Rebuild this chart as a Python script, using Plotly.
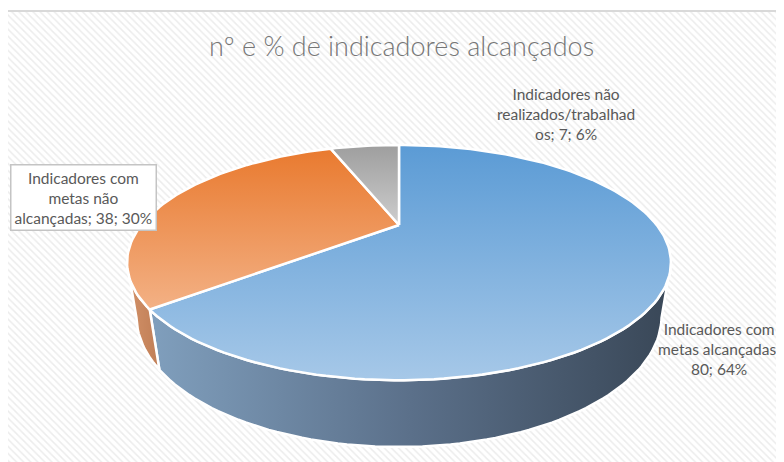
import math
import plotly.graph_objects as go

# ---------------- data ----------------
categories = [
    "Indicadores com metas alcançadas",
    "Indicadores com metas não alcançadas",
    "Indicadores não realizados/trabalhados",
]
values = [80, 38, 7]
label_lines = [
    ["Indicadores com", "metas alcançadas;"],
    ["Indicadores com", "metas não", "alcançadas;"],
    ["Indicadores não", "realizados/trabalhad", "os;"],
]
title_text = "nº e % de indicadores alcançados"

# ---------------- styles ----------------
top_scales = [
    [[0, "#5B9BD5"], [1, "#A6C8E8"]],
    [[0, "#E97A2F"], [1, "#F3B185"]],
    [[0, "#9E9E9E"], [1, "#CDCDCD"]],
]
wall_scales = [
    [[0, "#809FBD"], [0.5, "#5B708A"], [1, "#394757"]],
    [[0, "#D29168"], [1, "#C07E56"]],
    [[0, "#8A8A8A"], [1, "#6E6E6E"]],
]
text_color = "#595959"
FONT = "Lato"

# ---------------- 3D projection geometry ----------------
CX, CY = 399.0, 225.0      # projected centre of the pie (pixels)
S = 257.7                  # scale
D = 2.857                  # camera distance (perspective)
SA, CA = 0.41, 0.912       # sin / cos of the tilt
THICK = 0.224              # pie thickness


def proj(theta_deg, r, h):
    t = math.radians(theta_deg)
    u = r * math.sin(t)
    v = r * math.cos(t)
    depth = -h * SA + v * CA + D
    up = h * CA + v * SA
    return CX + S * D * u / depth, CY - S * D * up / depth


def arc(a0, a1, h, n=None):
    if n is None:
        n = max(4, int(abs(a1 - a0) / 1.5))
    pts = [proj(a0 + (a1 - a0) * i / n, 1.0, h) for i in range(n + 1)]
    return [p[0] for p in pts], [p[1] for p in pts]


total = sum(values)
bounds = [0.0]
for v in values:
    bounds.append(bounds[-1] + 360.0 * v / total)

fig = go.Figure()

# background: chart area with diagonal hatch
fig.add_trace(go.Scatter(
    x=[6, 800, 800, 6, 6], y=[11, 11, 480, 480, 11],
    mode="lines", fill="toself", line=dict(width=0),
    fillcolor="white",
    fillpattern=dict(shape="\\", fgcolor="#DADADA", bgcolor="white",
                     size=5, solidity=0.3),
    hoverinfo="skip", showlegend=False))

# visible outer walls
vis0 = math.degrees(math.acos(-CA / D))
vis1 = 360.0 - vis0
for i, v in enumerate(values):
    a0, a1 = max(bounds[i], vis0), min(bounds[i + 1], vis1)
    if a1 <= a0:
        continue
    xt, yt = arc(a0, a1, 0.0)
    xb, yb = arc(a1, a0, -THICK)
    xs = xt + xb + [xt[0]]
    ys = yt + yb + [yt[0]]
    fig.add_trace(go.Scatter(
        x=xs, y=ys, mode="lines", fill="toself",
        line=dict(color="white", width=2.5),
        fillgradient=dict(type="horizontal", colorscale=wall_scales[i],
                          start=min(xs), stop=max(xs)),
        hoverinfo="skip", showlegend=False))

# top faces
for i, v in enumerate(values):
    xa, ya = arc(bounds[i], bounds[i + 1], 0.0)
    xs = [CX] + xa + [CX]
    ys = [CY] + ya + [CY]
    fig.add_trace(go.Scatter(
        x=xs, y=ys, mode="lines", fill="toself",
        line=dict(color="white", width=2.5),
        fillgradient=dict(type="vertical", colorscale=top_scales[i],
                          start=min(ys), stop=max(ys)),
        hoverinfo="skip", showlegend=False))

# data labels
label_pos = [(719, 349), (83.5, 197), (566, 114)]
for i, v in enumerate(values):
    pct = round(100.0 * v / total)
    lines = list(label_lines[i])
    if i == 0:
        lines.append(f"{v}; {pct}%")
    else:
        lines[-1] = f"{lines[-1]} {v}; {pct}%"
    ann = dict(x=label_pos[i][0], y=label_pos[i][1], xref="x", yref="y",
               text="<br>".join(lines), showarrow=False,
               font=dict(family=FONT, size=15.5, color=text_color),
               align="center", xanchor="center", yanchor="middle")
    if i == 1:
        ann.update(bgcolor="white", bordercolor="#C4C4C4", borderwidth=1.5,
                   borderpad=3)
    fig.add_annotation(**ann)

fig.add_annotation(x=401, y=45, xref="x", yref="y", text=title_text,
                   showarrow=False, xanchor="center", yanchor="middle",
                   font=dict(family=FONT, size=27, color="#767676",
                             weight=300))

# chart area border
fig.add_shape(type="rect", x0=6, x1=800, y0=11, y1=480, xref="x", yref="y",
              line=dict(color="#D9D9D9", width=2), layer="above")

# the page body has an 8px margin: offset the ranges so window pixels = data units
fig.update_layout(
    width=784, height=462,
    margin=dict(l=0, r=0, t=0, b=0),
    paper_bgcolor="white", plot_bgcolor="white",
    xaxis=dict(range=[8, 792], visible=False, fixedrange=True),
    yaxis=dict(range=[470, 8], visible=False, fixedrange=True),
    hovermode=False,
)

fig.write_html("out.html")
